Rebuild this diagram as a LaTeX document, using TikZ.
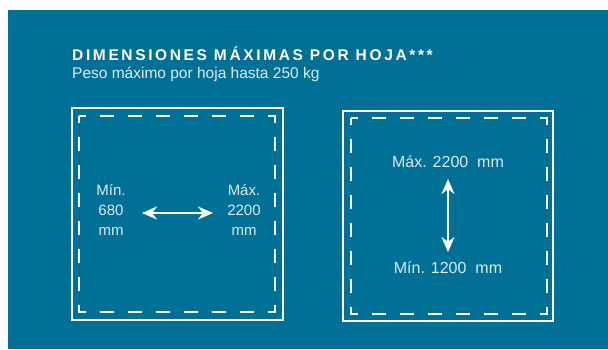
\documentclass[tikz,border=0pt]{standalone}
\usepackage{fontspec}
\setmainfont{Liberation Sans}
\usetikzlibrary{arrows.meta}
\definecolor{panelblue}{RGB}{0,112,150}
\definecolor{softwhite}{RGB}{222,234,240}
\newfontfamily\titlefont[LetterSpace=17]{Liberation Sans}
\tikzset{
  sheet/.style={draw=white, line width=2pt},
  cutline/.style={draw=white, line width=2pt, dash pattern=on 14pt off 14pt, dash phase=7pt},
  measure/.style={text=softwhite, font=\fontsize{15}{20}\selectfont, align=center, inner sep=0pt},
  span/.style={draw=white, line width=2pt, {Stealth[length=15pt,width=13pt]}-{Stealth[length=15pt,width=13pt]}}
}

\begin{document}
\begin{tikzpicture}[x=1pt,y=-1pt]
  \useasboundingbox (0,0) rectangle (608,349);
  \fill[white] (0,0) rectangle (608,349);
  \fill[panelblue] (8,10) rectangle (608,349);

  \node (title) [anchor=base west, inner sep=0pt, text=white, font=\titlefont\bfseries\fontsize{15.5}{17}\selectfont]
    at (72,60) {DIMENSIONES MÁXIMAS POR HOJA***};
  \node (subtitle) [anchor=base west, inner sep=0pt, text=softwhite, font=\fontsize{15.5}{18}\selectfont]
    at (72,78) {Peso máximo por hoja hasta 250 kg};

  % ancho
  \path[sheet] (72,108) rectangle (283,320);
  \path[cutline] (79,116) -- (275,116) -- (275,312) -- (79,312) -- cycle;
  \node (minw) [measure] at (111,210) {Mín.\\680\\mm};
  \node (maxw) [measure] at (244,210) {Máx.\\2200\\mm};
  \coordinate (wleft) at (142,213);
  \coordinate (wright) at (213,213);
  \draw[span] (wleft) -- (wright);

  % alto
  \path[sheet] (343,111) rectangle (553,321);
  \path[cutline] (351,118) -- (547,118) -- (547,314) -- (351,314) -- cycle;
  \node (maxh) [measure, anchor=base, font=\fontsize{16}{20}\selectfont] at (448,167) {Máx. 2200\ \ mm};
  \node (minh) [measure, anchor=base, font=\fontsize{16}{20}\selectfont] at (448,273) {Mín. 1200\ \ mm};
  \coordinate (htop) at (448,179);
  \coordinate (hbottom) at (448,252);
  \draw[span] (htop) -- (hbottom);
\end{tikzpicture}
\end{document}
